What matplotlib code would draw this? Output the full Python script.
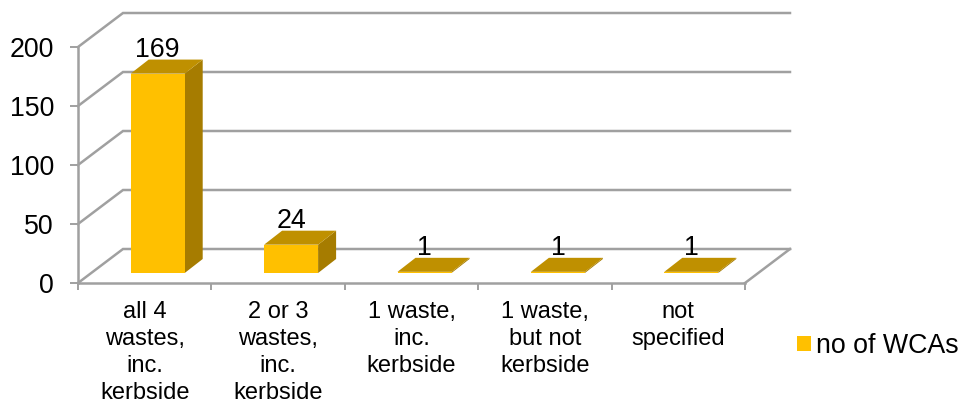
import matplotlib
matplotlib.use('Agg')
import matplotlib.pyplot as plt
from matplotlib.patches import Polygon
import numpy as np

categories = ['all 4\nwastes,\ninc.\nkerbside', '2 or 3\nwastes,\ninc.\nkerbside',
              '1 waste,\ninc.\nkerbside', '1 waste,\nbut not\nkerbside', 'not\nspecified']
values = [169, 24, 1, 1, 1]
yticks = [0, 50, 100, 150, 200]
series_name = 'no of WCAs'

GRID = '#a0a0a0'
FRONT = '#ffc000'
TOP = '#bf9000'
SIDE = '#a67c00'

plt.rcParams['font.family'] = ['Liberation Sans', 'DejaVu Sans']

W, H = 958, 405
fig = plt.figure(figsize=(W / 100, H / 100), dpi=100)
ax = fig.add_axes([78 / W, (H - 283) / H, 667 / W, 236 / H])
ax.set_xlim(0, 5)
ax.set_ylim(0, 200)

# px to data units, used for the fake 3d depth
px_x = 5 / 667
px_y = 200 / 236
wall_dx = 45 * px_x
wall_dy = 34 * px_y
bar_dx = 18 * px_x
bar_dy = 14 * px_y
base_dx = 13 * px_x
base_dy = 10 * px_y
bar_w = 54 * px_x

# back wall and side wall gridlines
for v in yticks:
    ax.plot([0, wall_dx, 5 + wall_dx], [v, v + wall_dy, v + wall_dy],
            color=GRID, lw=1.8, clip_on=False, zorder=1, solid_joinstyle='miter')
ax.plot([5, 5 + wall_dx], [0, wall_dy], color=GRID, lw=1.8, clip_on=False, zorder=1)

# bars
x = np.arange(len(values)) + 0.5 + base_dx
bars = ax.bar(x, values, bar_w, bottom=base_dy, color=FRONT, label=series_name,
              zorder=3, clip_on=False)
for xi, v in zip(x, values):
    l, r = xi - bar_w / 2, xi + bar_w / 2
    top = base_dy + v
    ax.add_patch(Polygon([(l, top), (r, top), (r + bar_dx, top + bar_dy), (l + bar_dx, top + bar_dy)],
                         closed=True, fc=TOP, ec='none', zorder=4, clip_on=False))
    ax.add_patch(Polygon([(r, base_dy), (r + bar_dx, base_dy + bar_dy), (r + bar_dx, top + bar_dy), (r, top)],
                         closed=True, fc=SIDE, ec='none', zorder=2, clip_on=False))
    ax.text(xi, top + 17 * px_y, str(v), ha='center', va='baseline', fontsize=19.3,
            color='black', zorder=5)

# axes
for side in ('top', 'right'):
    ax.spines[side].set_visible(False)
for side in ('left', 'bottom'):
    ax.spines[side].set_color(GRID)
    ax.spines[side].set_linewidth(1.8)
    ax.spines[side].set_zorder(2)
ax.patch.set_alpha(0)

ax.set_yticks(yticks)
ax.tick_params(axis='y', length=5.8, width=1.4, color=GRID, labelsize=19.3, pad=11.5)
ax.set_xticks(np.arange(6))
ax.set_xticklabels([])
ax.tick_params(axis='x', which='major', length=5, width=1.4, color=GRID)
ax.set_xticks(np.arange(5) + 0.5, minor=True)
ax.set_xticklabels(categories, minor=True, fontsize=17, linespacing=1.3)
ax.tick_params(axis='x', which='minor', length=0, pad=13)

leg = fig.legend(handles=[bars], labels=[series_name], loc='center left',
                 bbox_to_anchor=(797 / W, (H - 346) / H), frameon=False, fontsize=19.3,
                 handlelength=0.54, handleheight=0.54, handletextpad=0.17, borderpad=0,
                 borderaxespad=0)

fig.savefig('out.png', dpi=100)
